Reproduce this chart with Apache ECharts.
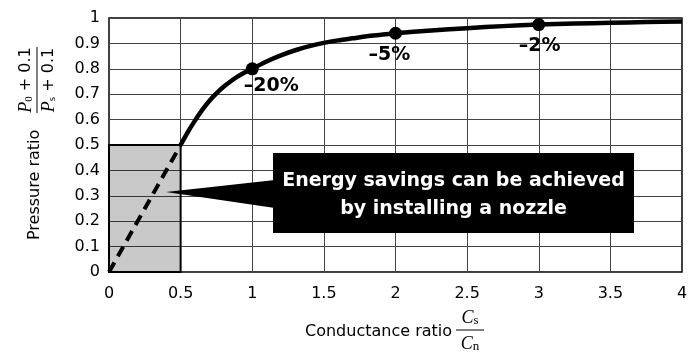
<!DOCTYPE html>
<html>
<head>
<meta charset="utf-8">
<script src="https://cdn.jsdelivr.net/npm/echarts@6/dist/echarts.min.js"></script>
<style>
html,body{margin:0;padding:0;background:#fff;}
#chart{width:700px;height:355px;}
</style>
</head>
<body>
<div id="chart"></div>
<script>
// ---- data ----
const xTicks = [0, 0.5, 1, 1.5, 2, 2.5, 3, 3.5, 4];
const yTicks = [0, 0.1, 0.2, 0.3, 0.4, 0.5, 0.6, 0.7, 0.8, 0.9, 1];
const curveX = [0.5, 0.55, 0.6, 0.65, 0.7, 0.75, 0.8, 0.85, 0.9, 0.95, 1.0, 1.1, 1.2, 1.3, 1.4, 1.5, 1.6, 1.7, 1.8, 1.9, 2.0, 2.25, 2.5, 2.75, 3.0, 3.25, 3.5, 3.75, 4.0];
const curveY = [0.5, 0.551, 0.596, 0.637, 0.673, 0.703, 0.729, 0.751, 0.770, 0.786, 0.800, 0.829, 0.853, 0.873, 0.889, 0.902, 0.912, 0.920, 0.928, 0.934, 0.940, 0.951, 0.960, 0.968, 0.974, 0.978, 0.981, 0.984, 0.986];
const dashX = [0, 0.5];
const dashY = [0, 0.5];
const pointX = [1, 2, 3];
const pointY = [0.8, 0.94, 0.974];
const pointLabels = ['\u201320%', '\u20135%', '\u20132%'];
const shadeFrom = [0, 0];
const shadeTo = [0.5, 0.5];
const calloutLines = ['Energy savings can be achieved', 'by installing a nozzle'];
const calloutBoxFrom = [1.145, 0.4685];
const calloutBoxTo = [3.665, 0.1535];
const calloutTip = [0.398, 0.315];
const calloutBase = [0.362, 0.252];
const xTitle = 'Conductance ratio';
const yTitle = 'Pressure ratio';

const SANS = 'DejaVu Sans';
const chart = echarts.init(document.getElementById('chart'), null, {renderer: 'canvas'});

const labelOffsets = [[19, 17], [-6, 22], [1, 21]];

const option = {
  animation: false,
  backgroundColor: '#fff',
  grid: {left: 109, right: 18, top: 18, bottom: 83, show: true, borderColor: '#000', borderWidth: 1.5, backgroundColor: 'transparent'},
  xAxis: {
    type: 'value', min: 0, max: 4, interval: 0.5,
    axisLine: {show: false}, axisTick: {show: false},
    splitLine: {show: true, lineStyle: {color: '#444', width: 1}},
    axisLabel: {color: '#000', fontFamily: SANS, fontSize: 16, margin: 14,
      formatter: v => { const t = xTicks.find(k => Math.abs(k - v) < 1e-9); return t === undefined ? '' : String(t); }}
  },
  yAxis: {
    type: 'value', min: 0, max: 1, interval: 0.1,
    axisLine: {show: false}, axisTick: {show: false},
    splitLine: {show: true, lineStyle: {color: '#444', width: 1}},
    axisLabel: {color: '#000', fontFamily: SANS, fontSize: 16, margin: 9,
      formatter: v => { const t = yTicks.find(k => Math.abs(k - v) < 1e-9); return t === undefined ? '' : String(t); }}
  },
  series: [
    {
      type: 'line', data: [], silent: true,
      markArea: {silent: true,
        itemStyle: {color: 'rgba(0,0,0,0.21)', borderColor: '#000', borderWidth: 2},
        data: [[{coord: shadeFrom}, {coord: shadeTo}]]}
    },
    {
      type: 'line', data: dashX.map((x, i) => [x, dashY[i]]), symbol: 'none',
      lineStyle: {color: '#000', width: 4, type: [11, 7], cap: 'butt'}, z: 3
    },
    {
      type: 'line', data: curveX.map((x, i) => [x, curveY[i]]), symbol: 'none', smooth: 0.3,
      lineStyle: {color: '#000', width: 4.5, join: 'round'}, z: 3
    },
    {
      type: 'scatter', symbol: 'circle', symbolSize: 13, z: 4,
      itemStyle: {color: '#000', opacity: 1},
      data: pointX.map((x, i) => ({
        value: [x, pointY[i]],
        label: {show: true, formatter: pointLabels[i], position: 'inside', offset: labelOffsets[i],
          color: '#000', opacity: 1, fontFamily: SANS, fontWeight: 'bold', fontSize: 19}
      }))
    }
  ]
};
chart.setOption(option);

const P = (pt) => chart.convertToPixel({gridIndex: 0}, pt);
const b0 = P(calloutBoxFrom), b1 = P(calloutBoxTo), tip = P(calloutTip);
const nTop = P([calloutBoxFrom[0], calloutBase[0]]), nBot = P([calloutBoxFrom[0], calloutBase[1]]);

const fracRich = {
  i: {fontFamily: 'Liberation Serif', fontStyle: 'italic', fontSize: 18, fill: '#000'},
  sub: {fontFamily: 'Liberation Serif', fontSize: 11, fill: '#000', verticalAlign: 'bottom', padding: [6, 0, 0, 0]},
  n: {fontFamily: SANS, fontSize: 16, fill: '#000'}
};
const fracRichX = {
  i: {fontFamily: 'Liberation Serif', fontStyle: 'italic', fontSize: 18, fill: '#000'},
  sub: {fontFamily: 'Liberation Serif', fontSize: 13, fill: '#000', verticalAlign: 'bottom', padding: [5, 0, 0, 0]}
};

chart.setOption({
  graphic: [
    // callout
    {type: 'polygon', z: 50, shape: {points: [tip, [nTop[0] + 2, nTop[1]], [nBot[0] + 2, nBot[1]]]}, style: {fill: '#000'}},
    {type: 'rect', z: 50, shape: {x: b0[0], y: b0[1], width: b1[0] - b0[0], height: b1[1] - b0[1]}, style: {fill: '#000'}},
    {type: 'text', z: 51, x: (b0[0] + b1[0]) / 2, y: (b0[1] + b1[1]) / 2 + 2,
      style: {text: calloutLines.join('\n'), fill: '#fff', font: 'bold 19px "DejaVu Sans"', align: 'center', verticalAlign: 'middle', lineHeight: 28}},
    // y axis title
    {type: 'group', x: 37, y: 240, rotation: Math.PI / 2, children: [
      {type: 'text', x: 0, y: -2, style: {text: yTitle, fill: '#000', font: '16px "DejaVu Sans"', align: 'left', verticalAlign: 'middle'}},
      {type: 'line', shape: {x1: 127, y1: 0, x2: 193, y2: 0}, style: {stroke: '#000', lineWidth: 1}},
      {type: 'text', x: 160, y: -11, style: {text: '{i|P}{sub|0}{n| + 0.1}', rich: fracRich, align: 'center', verticalAlign: 'middle'}},
      {type: 'text', x: 160, y: 12, style: {text: '{i|P}{sub|s}{n| + 0.1}', rich: fracRich, align: 'center', verticalAlign: 'middle'}}
    ]},
    // x axis title
    {type: 'text', x: 305, y: 332, style: {text: xTitle, fill: '#000', font: '16px "DejaVu Sans"', align: 'left', verticalAlign: 'middle'}},
    {type: 'line', shape: {x1: 456, y1: 330, x2: 484, y2: 330}, style: {stroke: '#000', lineWidth: 1}},
    {type: 'text', x: 470, y: 318, style: {text: '{i|C}{sub|s}', rich: fracRichX, align: 'center', verticalAlign: 'middle'}},
    {type: 'text', x: 470, y: 344, style: {text: '{i|C}{sub|n}', rich: fracRichX, align: 'center', verticalAlign: 'middle'}}
  ]
});
</script>
</body>
</html>
